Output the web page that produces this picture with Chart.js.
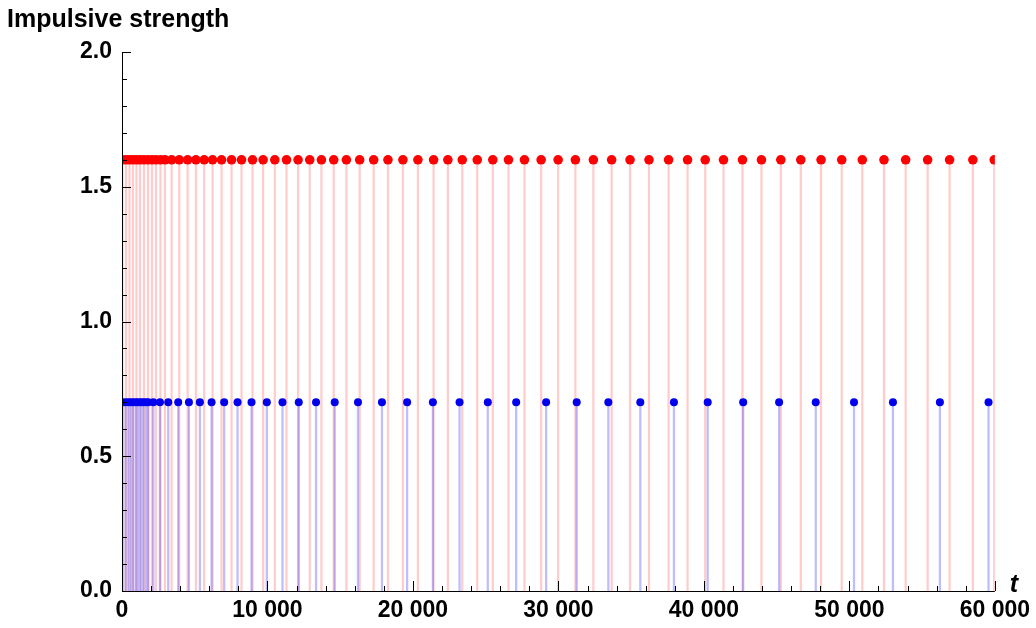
<!DOCTYPE html>
<html>
<head>
  <meta charset="UTF-8">
  <title>Impulsive strength</title>
  <script src="https://cdn.jsdelivr.net/npm/chart.js"></script>
  <style>
    body { margin: 0; background: white; }
    #wrap { width: 1036px; height: 628px; }
  </style>
</head>
<body>
  <div id="wrap"><canvas id="impulseChart" width="1036" height="628"></canvas></div>

  <script>
    // impulse times (t) and strengths
    const redTimes = [30, 275, 515, 755, 995, 1236, 1510, 1785, 2060, 2334, 2643, 2952,
      3412, 3934, 4510, 5080, 5650, 6227, 6844, 7531, 8217, 8973, 9700, 10504, 11307,
      12103, 12906, 13709, 14554, 15425, 16339, 17300, 18282, 19311, 20341, 21419,
      22400, 23390, 24420, 25490, 26568, 27666, 28813, 29980, 31167, 32403, 33659,
      34923, 36227, 37573, 38877, 40092, 41348, 42653, 43957, 45288, 46662, 48055,
      49476, 50890, 52380, 53870, 55380, 56890, 58490, 59960];
    const redStrength = 1.6;

    const blueTimes = [34, 240, 432, 618, 776, 961, 1119, 1304, 1462, 1648, 1806, 2149,
      2609, 3179, 3865, 4600, 5355, 6158, 7023, 7943, 8904, 9955, 11032, 12151, 13339,
      14623, 16222, 17870, 19600, 21371, 23204, 25146, 27096, 29155, 31256, 33432,
      35629, 37942, 40263, 42700, 45171, 47690, 50320, 52997, 56224, 59567];
    const blueStrength = 0.7;

    const xMax = 60000;
    const yMax = 2.0;
    const xLabelTicks = [0, 10000, 20000, 30000, 40000, 50000, 60000];
    const yLabelTicks = [0, 0.5, 1.0, 1.5, 2.0];

    const redPoints = redTimes.map(t => ({ x: t, y: redStrength }));
    const bluePoints = blueTimes.map(t => ({ x: t, y: blueStrength }));

    const tickFont = { family: "'Liberation Sans', Arial, sans-serif", size: 23, weight: "bold" };

    // Mathematica-style inward ticks and axis labels
    const axisDecor = {
      id: "axisDecor",
      afterDraw(chart) {
        const ctx = chart.ctx;
        const xs = chart.scales.x, ys = chart.scales.y;
        const area = chart.chartArea;
        ctx.save();
        ctx.strokeStyle = "#000";
        ctx.lineWidth = 1;
        ctx.beginPath();
        // axis lines
        ctx.moveTo(area.left + 0.5, area.top);
        ctx.lineTo(area.left + 0.5, area.bottom);
        ctx.moveTo(area.left, area.bottom + 0.5);
        ctx.lineTo(area.right, area.bottom + 0.5);
        // x ticks
        for (let v = 0; v <= xMax; v += 2000) {
          const px = Math.round(xs.getPixelForValue(v)) + 0.5;
          const len = v % 10000 === 0 ? 10 : 5;
          ctx.moveTo(px, area.bottom);
          ctx.lineTo(px, area.bottom - len);
        }
        // y ticks
        for (let i = 0; i <= 20; i++) {
          const v = i / 10;
          const py = Math.round(ys.getPixelForValue(v)) + 0.5;
          const len = i % 5 === 0 ? 9 : 5;
          ctx.moveTo(area.left, py);
          ctx.lineTo(area.left + len, py);
        }
        ctx.stroke();

        ctx.fillStyle = "#000";
        ctx.font = "bold 25px 'Liberation Sans', Arial, sans-serif";
        ctx.textBaseline = "alphabetic";
        ctx.textAlign = "left";
        ctx.fillText("Impulsive strength", 7, 27);
        ctx.font = "italic bold 25px 'Liberation Sans', Arial, sans-serif";
        ctx.fillText("t", area.right + 15, area.bottom + 1);
        ctx.restore();
      }
    };

    new Chart(document.getElementById("impulseChart"), {
      type: "scatter",
      data: {
        datasets: [
          {
            type: "scatter",
            data: redPoints,
            backgroundColor: "#ff0000",
            borderWidth: 0,
            pointRadius: 4.8,
            clip: 0,
            order: 2
          },
          {
            type: "scatter",
            data: bluePoints,
            backgroundColor: "#0000ee",
            borderWidth: 0,
            pointRadius: 4,
            clip: 0,
            order: 1
          },
          {
            type: "bar",
            data: redPoints,
            backgroundColor: "rgba(255, 0, 0, 0.2)",
            barThickness: 1.6,
            grouped: false,
            clip: 0,
            order: 4
          },
          {
            type: "bar",
            data: bluePoints,
            backgroundColor: "rgba(0, 0, 255, 0.26)",
            barThickness: 1.6,
            grouped: false,
            clip: 0,
            order: 3
          }
        ]
      },
      options: {
        responsive: false,
        animation: false,
        layout: { padding: { top: 52, right: 40, left: 0, bottom: 0 } },
        plugins: { legend: { display: false }, tooltip: { enabled: false } },
        scales: {
          x: {
            type: "linear",
            min: 0,
            max: xMax,
            offset: false,
            grid: { display: false, drawTicks: false },
            border: { display: false },
            afterFit: s => { s.height = 37; },
            afterBuildTicks: s => { s.ticks = xLabelTicks.map(v => ({ value: v })); },
            ticks: {
              padding: 6,
              color: "#000",
              font: tickFont,
              maxRotation: 0,
              callback: v => v === 0 ? "0" : String(v).replace(/(\d)(?=(\d{3})+$)/g, "$1 ")
            }
          },
          y: {
            min: 0,
            max: yMax,
            grid: { display: false, drawTicks: false },
            border: { display: false },
            afterFit: s => { s.width = 122; },
            afterBuildTicks: s => { s.ticks = yLabelTicks.map(v => ({ value: v })); },
            ticks: {
              padding: 10,
              color: "#000",
              font: tickFont,
              callback: v => v.toFixed(1)
            }
          }
        }
      },
      plugins: [axisDecor]
    });
  </script>
</body>
</html>
